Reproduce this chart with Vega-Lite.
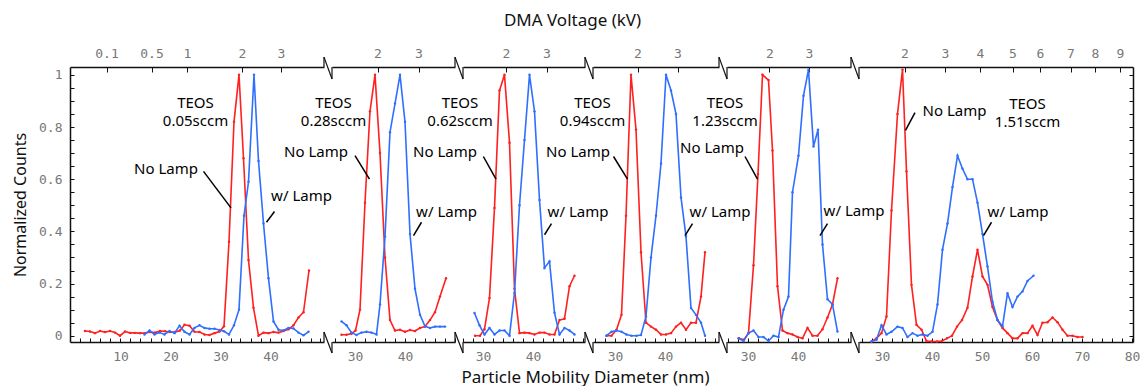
{
"$schema":"https://vega.github.io/schema/vega-lite/v6.json",
"background":"white",
"padding":{"left":12,"top":11,"right":5,"bottom":5},
"bounds":"flush",
"spacing":8,
"config":{"view":{"stroke":null},"font":"Noto Sans",
"axis":{"grid":false,"domainColor":"#111","domainWidth":1.5,"tickColor":"#111","tickWidth":1,"labelFont":"DejaVu Sans Mono","labelFontSize":13,"labelColor":"#777","labelOverlap":false,"labelFlush":false,"titleFont":"Noto Sans","titleFontSize":17,"titleFontWeight":"normal","titleColor":"#111"}},
"datasets":{
"c":[
{"p":1,"s":"No Lamp","d":2.9,"v":0.018},{"p":1,"s":"No Lamp","d":3.9,"v":0.016},{"p":1,"s":"No Lamp","d":4.9,"v":0.01},{"p":1,"s":"No Lamp","d":5.9,"v":0.018},{"p":1,"s":"No Lamp","d":6.9,"v":0.014},{"p":1,"s":"No Lamp","d":7.9,"v":0.018},{"p":1,"s":"No Lamp","d":8.9,"v":0.012},{"p":1,"s":"No Lamp","d":9.9,"v":0.0},{"p":1,"s":"No Lamp","d":10.9,"v":0.016},{"p":1,"s":"No Lamp","d":11.9,"v":0.011},{"p":1,"s":"No Lamp","d":12.9,"v":0.011},{"p":1,"s":"No Lamp","d":13.9,"v":0.01},{"p":1,"s":"No Lamp","d":14.9,"v":0.01},{"p":1,"s":"No Lamp","d":15.9,"v":0.014},{"p":1,"s":"No Lamp","d":16.9,"v":0.012},{"p":1,"s":"No Lamp","d":17.9,"v":0.018},{"p":1,"s":"No Lamp","d":18.9,"v":0.017},{"p":1,"s":"No Lamp","d":19.9,"v":0.014},{"p":1,"s":"No Lamp","d":20.9,"v":0.014},{"p":1,"s":"No Lamp","d":21.9,"v":0.02},{"p":1,"s":"No Lamp","d":22.8,"v":0.042},{"p":1,"s":"No Lamp","d":23.8,"v":0.038},{"p":1,"s":"No Lamp","d":24.8,"v":0.015},{"p":1,"s":"No Lamp","d":25.8,"v":0.014},{"p":1,"s":"No Lamp","d":26.8,"v":0.005},{"p":1,"s":"No Lamp","d":27.8,"v":0.003},{"p":1,"s":"No Lamp","d":28.8,"v":0.01},{"p":1,"s":"No Lamp","d":29.8,"v":0.016},{"p":1,"s":"No Lamp","d":30.7,"v":0.036},{"p":1,"s":"No Lamp","d":31.7,"v":0.36},{"p":1,"s":"No Lamp","d":32.7,"v":0.82},{"p":1,"s":"No Lamp","d":33.7,"v":1.0},{"p":1,"s":"No Lamp","d":34.6,"v":0.68},{"p":1,"s":"No Lamp","d":35.6,"v":0.29},{"p":1,"s":"No Lamp","d":36.6,"v":0.107},{"p":1,"s":"No Lamp","d":37.6,"v":0.0},{"p":1,"s":"No Lamp","d":38.6,"v":0.012},{"p":1,"s":"No Lamp","d":39.6,"v":0.01},{"p":1,"s":"No Lamp","d":40.6,"v":0.014},{"p":1,"s":"No Lamp","d":41.6,"v":0.012},{"p":1,"s":"No Lamp","d":42.6,"v":0.018},{"p":1,"s":"No Lamp","d":43.6,"v":0.025},{"p":1,"s":"No Lamp","d":44.6,"v":0.04},{"p":1,"s":"No Lamp","d":45.6,"v":0.07},{"p":1,"s":"No Lamp","d":46.6,"v":0.09},{"p":1,"s":"No Lamp","d":47.7,"v":0.25},
{"p":1,"s":"w/ Lamp","d":14.8,"v":0.005},{"p":1,"s":"w/ Lamp","d":15.8,"v":0.02},{"p":1,"s":"w/ Lamp","d":16.8,"v":0.005},{"p":1,"s":"w/ Lamp","d":17.8,"v":0.012},{"p":1,"s":"w/ Lamp","d":18.8,"v":0.005},{"p":1,"s":"w/ Lamp","d":19.8,"v":0.018},{"p":1,"s":"w/ Lamp","d":20.8,"v":0.01},{"p":1,"s":"w/ Lamp","d":21.8,"v":0.038},{"p":1,"s":"w/ Lamp","d":22.8,"v":0.015},{"p":1,"s":"w/ Lamp","d":23.8,"v":0.005},{"p":1,"s":"w/ Lamp","d":24.8,"v":0.03},{"p":1,"s":"w/ Lamp","d":25.8,"v":0.04},{"p":1,"s":"w/ Lamp","d":26.8,"v":0.03},{"p":1,"s":"w/ Lamp","d":27.8,"v":0.027},{"p":1,"s":"w/ Lamp","d":28.8,"v":0.027},{"p":1,"s":"w/ Lamp","d":29.8,"v":0.022},{"p":1,"s":"w/ Lamp","d":30.7,"v":0.017},{"p":1,"s":"w/ Lamp","d":31.7,"v":0.005},{"p":1,"s":"w/ Lamp","d":32.7,"v":0.04},{"p":1,"s":"w/ Lamp","d":33.7,"v":0.1},{"p":1,"s":"w/ Lamp","d":34.7,"v":0.46},{"p":1,"s":"w/ Lamp","d":35.6,"v":0.59},{"p":1,"s":"w/ Lamp","d":36.7,"v":1.0},{"p":1,"s":"w/ Lamp","d":37.6,"v":0.67},{"p":1,"s":"w/ Lamp","d":38.6,"v":0.43},{"p":1,"s":"w/ Lamp","d":39.6,"v":0.22},{"p":1,"s":"w/ Lamp","d":40.6,"v":0.055},{"p":1,"s":"w/ Lamp","d":41.6,"v":0.023},{"p":1,"s":"w/ Lamp","d":42.6,"v":0.02},{"p":1,"s":"w/ Lamp","d":43.6,"v":0.03},{"p":1,"s":"w/ Lamp","d":44.6,"v":0.028},{"p":1,"s":"w/ Lamp","d":45.6,"v":0.012},{"p":1,"s":"w/ Lamp","d":46.6,"v":0.002},{"p":1,"s":"w/ Lamp","d":47.6,"v":0.015},
{"p":2,"s":"No Lamp","d":27.3,"v":0.004},{"p":2,"s":"No Lamp","d":28.3,"v":0.004},{"p":2,"s":"No Lamp","d":29.3,"v":0.008},{"p":2,"s":"No Lamp","d":30.1,"v":0.02},{"p":2,"s":"No Lamp","d":31,"v":0.1},{"p":2,"s":"No Lamp","d":32,"v":0.51},{"p":2,"s":"No Lamp","d":33,"v":0.86},{"p":2,"s":"No Lamp","d":34,"v":1.0},{"p":2,"s":"No Lamp","d":35,"v":0.7},{"p":2,"s":"No Lamp","d":36,"v":0.3},{"p":2,"s":"No Lamp","d":37,"v":0.06},{"p":2,"s":"No Lamp","d":38,"v":0.02},{"p":2,"s":"No Lamp","d":39,"v":0.023},{"p":2,"s":"No Lamp","d":40,"v":0.015},{"p":2,"s":"No Lamp","d":41,"v":0.022},{"p":2,"s":"No Lamp","d":42,"v":0.018},{"p":2,"s":"No Lamp","d":43,"v":0.03},{"p":2,"s":"No Lamp","d":44,"v":0.035},{"p":2,"s":"No Lamp","d":45,"v":0.06},{"p":2,"s":"No Lamp","d":46,"v":0.09},{"p":2,"s":"No Lamp","d":47,"v":0.15},{"p":2,"s":"No Lamp","d":48.2,"v":0.22},
{"p":2,"s":"w/ Lamp","d":27.3,"v":0.055},{"p":2,"s":"w/ Lamp","d":28.3,"v":0.04},{"p":2,"s":"w/ Lamp","d":29.3,"v":0.012},{"p":2,"s":"w/ Lamp","d":30.3,"v":0.003},{"p":2,"s":"w/ Lamp","d":31.3,"v":0.012},{"p":2,"s":"w/ Lamp","d":32.3,"v":0.015},{"p":2,"s":"w/ Lamp","d":33.3,"v":0.012},{"p":2,"s":"w/ Lamp","d":34.3,"v":0.005},{"p":2,"s":"w/ Lamp","d":35,"v":0.12},{"p":2,"s":"w/ Lamp","d":36,"v":0.38},{"p":2,"s":"w/ Lamp","d":37,"v":0.78},{"p":2,"s":"w/ Lamp","d":38,"v":0.89},{"p":2,"s":"w/ Lamp","d":39,"v":1.0},{"p":2,"s":"w/ Lamp","d":40,"v":0.82},{"p":2,"s":"w/ Lamp","d":41,"v":0.39},{"p":2,"s":"w/ Lamp","d":42,"v":0.18},{"p":2,"s":"w/ Lamp","d":43,"v":0.08},{"p":2,"s":"w/ Lamp","d":44,"v":0.036},{"p":2,"s":"w/ Lamp","d":45,"v":0.03},{"p":2,"s":"w/ Lamp","d":46,"v":0.035},{"p":2,"s":"w/ Lamp","d":47,"v":0.035},{"p":2,"s":"w/ Lamp","d":48,"v":0.035},
{"p":3,"s":"No Lamp","d":28.4,"v":0.0},{"p":3,"s":"No Lamp","d":29.4,"v":0.0},{"p":3,"s":"No Lamp","d":30.3,"v":0.025},{"p":3,"s":"No Lamp","d":31.3,"v":0.145},{"p":3,"s":"No Lamp","d":32.3,"v":0.49},{"p":3,"s":"No Lamp","d":33.3,"v":0.94},{"p":3,"s":"No Lamp","d":34.3,"v":1.0},{"p":3,"s":"No Lamp","d":35.3,"v":0.74},{"p":3,"s":"No Lamp","d":36.3,"v":0.18},{"p":3,"s":"No Lamp","d":37.3,"v":0.01},{"p":3,"s":"No Lamp","d":38.3,"v":0.012},{"p":3,"s":"No Lamp","d":39.3,"v":0.01},{"p":3,"s":"No Lamp","d":40.3,"v":0.005},{"p":3,"s":"No Lamp","d":41.3,"v":0.012},{"p":3,"s":"No Lamp","d":42.3,"v":0.012},{"p":3,"s":"No Lamp","d":43.3,"v":0.005},{"p":3,"s":"No Lamp","d":44.3,"v":0.005},{"p":3,"s":"No Lamp","d":45.3,"v":0.06},{"p":3,"s":"No Lamp","d":46.3,"v":0.065},{"p":3,"s":"No Lamp","d":47.3,"v":0.19},{"p":3,"s":"No Lamp","d":48.3,"v":0.23},
{"p":3,"s":"w/ Lamp","d":28.3,"v":0.087},{"p":3,"s":"w/ Lamp","d":29.3,"v":0.04},{"p":3,"s":"w/ Lamp","d":30.3,"v":0.005},{"p":3,"s":"w/ Lamp","d":31.3,"v":0.03},{"p":3,"s":"w/ Lamp","d":32.3,"v":0.005},{"p":3,"s":"w/ Lamp","d":33.3,"v":0.02},{"p":3,"s":"w/ Lamp","d":34.3,"v":0.02},{"p":3,"s":"w/ Lamp","d":35.3,"v":0.0},{"p":3,"s":"w/ Lamp","d":36.3,"v":0.165},{"p":3,"s":"w/ Lamp","d":37.3,"v":0.5},{"p":3,"s":"w/ Lamp","d":38.3,"v":0.75},{"p":3,"s":"w/ Lamp","d":39.3,"v":1.0},{"p":3,"s":"w/ Lamp","d":40.3,"v":0.86},{"p":3,"s":"w/ Lamp","d":41.3,"v":0.52},{"p":3,"s":"w/ Lamp","d":42.3,"v":0.26},{"p":3,"s":"w/ Lamp","d":43.3,"v":0.285},{"p":3,"s":"w/ Lamp","d":44.3,"v":0.088},{"p":3,"s":"w/ Lamp","d":45.3,"v":0.005},{"p":3,"s":"w/ Lamp","d":46.3,"v":0.03},{"p":3,"s":"w/ Lamp","d":47.3,"v":0.02},{"p":3,"s":"w/ Lamp","d":48.3,"v":0.005},
{"p":4,"s":"No Lamp","d":28.3,"v":0.0},{"p":4,"s":"No Lamp","d":29.3,"v":0.0},{"p":4,"s":"No Lamp","d":30.3,"v":0.023},{"p":4,"s":"No Lamp","d":31.3,"v":0.08},{"p":4,"s":"No Lamp","d":32.2,"v":0.46},{"p":4,"s":"No Lamp","d":33.2,"v":1.0},{"p":4,"s":"No Lamp","d":34.2,"v":0.79},{"p":4,"s":"No Lamp","d":35.2,"v":0.32},{"p":4,"s":"No Lamp","d":36.2,"v":0.05},{"p":4,"s":"No Lamp","d":37.2,"v":0.035},{"p":4,"s":"No Lamp","d":38.2,"v":0.023},{"p":4,"s":"No Lamp","d":39.2,"v":0.005},{"p":4,"s":"No Lamp","d":40.2,"v":0.005},{"p":4,"s":"No Lamp","d":41.2,"v":0.01},{"p":4,"s":"No Lamp","d":42.2,"v":0.035},{"p":4,"s":"No Lamp","d":43.2,"v":0.05},{"p":4,"s":"No Lamp","d":44.2,"v":0.023},{"p":4,"s":"No Lamp","d":45.2,"v":0.05},{"p":4,"s":"No Lamp","d":46.2,"v":0.05},{"p":4,"s":"No Lamp","d":47.2,"v":0.15},{"p":4,"s":"No Lamp","d":48,"v":0.32},
{"p":4,"s":"w/ Lamp","d":28.3,"v":0.0},{"p":4,"s":"w/ Lamp","d":29.3,"v":0.015},{"p":4,"s":"w/ Lamp","d":30.3,"v":0.02},{"p":4,"s":"w/ Lamp","d":31.3,"v":0.015},{"p":4,"s":"w/ Lamp","d":32.3,"v":0.005},{"p":4,"s":"w/ Lamp","d":33.3,"v":0.0},{"p":4,"s":"w/ Lamp","d":34.3,"v":0.0},{"p":4,"s":"w/ Lamp","d":35.2,"v":0.003},{"p":4,"s":"w/ Lamp","d":36.2,"v":0.074},{"p":4,"s":"w/ Lamp","d":37.2,"v":0.3},{"p":4,"s":"w/ Lamp","d":38.2,"v":0.46},{"p":4,"s":"w/ Lamp","d":39.2,"v":0.66},{"p":4,"s":"w/ Lamp","d":40.2,"v":1.0},{"p":4,"s":"w/ Lamp","d":41.2,"v":0.94},{"p":4,"s":"w/ Lamp","d":42.2,"v":0.85},{"p":4,"s":"w/ Lamp","d":43.2,"v":0.53},{"p":4,"s":"w/ Lamp","d":44.2,"v":0.38},{"p":4,"s":"w/ Lamp","d":45.2,"v":0.106},{"p":4,"s":"w/ Lamp","d":46.2,"v":0.08},{"p":4,"s":"w/ Lamp","d":47.2,"v":0.05},{"p":4,"s":"w/ Lamp","d":48,"v":0.0},
{"p":5,"s":"No Lamp","d":28.2,"v":-0.01},{"p":5,"s":"No Lamp","d":29.2,"v":-0.015},{"p":5,"s":"No Lamp","d":30.1,"v":0.01},{"p":5,"s":"No Lamp","d":31.1,"v":0.27},{"p":5,"s":"No Lamp","d":32,"v":0.62},{"p":5,"s":"No Lamp","d":32.9,"v":1.0},{"p":5,"s":"No Lamp","d":34.1,"v":0.98},{"p":5,"s":"No Lamp","d":34.9,"v":0.71},{"p":5,"s":"No Lamp","d":35.9,"v":0.19},{"p":5,"s":"No Lamp","d":36.9,"v":0.02},{"p":5,"s":"No Lamp","d":37.9,"v":0.01},{"p":5,"s":"No Lamp","d":38.9,"v":0.005},{"p":5,"s":"No Lamp","d":39.9,"v":-0.005},{"p":5,"s":"No Lamp","d":40.9,"v":-0.01},{"p":5,"s":"No Lamp","d":41.9,"v":0.03},{"p":5,"s":"No Lamp","d":42.9,"v":0.0},{"p":5,"s":"No Lamp","d":43.9,"v":0.0},{"p":5,"s":"No Lamp","d":44.9,"v":0.025},{"p":5,"s":"No Lamp","d":45.9,"v":0.07},{"p":5,"s":"No Lamp","d":46.9,"v":0.12},{"p":5,"s":"No Lamp","d":47.9,"v":0.22},
{"p":5,"s":"w/ Lamp","d":28.1,"v":-0.01},{"p":5,"s":"w/ Lamp","d":29.1,"v":-0.02},{"p":5,"s":"w/ Lamp","d":30.1,"v":0.01},{"p":5,"s":"w/ Lamp","d":31.1,"v":0.02},{"p":5,"s":"w/ Lamp","d":32.1,"v":-0.005},{"p":5,"s":"w/ Lamp","d":33.1,"v":-0.005},{"p":5,"s":"w/ Lamp","d":34.1,"v":-0.02},{"p":5,"s":"w/ Lamp","d":35.1,"v":0.0},{"p":5,"s":"w/ Lamp","d":36.1,"v":-0.005},{"p":5,"s":"w/ Lamp","d":37.1,"v":0.1},{"p":5,"s":"w/ Lamp","d":38.1,"v":0.15},{"p":5,"s":"w/ Lamp","d":38.9,"v":0.55},{"p":5,"s":"w/ Lamp","d":40.1,"v":0.69},{"p":5,"s":"w/ Lamp","d":41.1,"v":0.92},{"p":5,"s":"w/ Lamp","d":42.1,"v":1.02},{"p":5,"s":"w/ Lamp","d":43.1,"v":0.725},{"p":5,"s":"w/ Lamp","d":44,"v":0.79},{"p":5,"s":"w/ Lamp","d":44.9,"v":0.35},{"p":5,"s":"w/ Lamp","d":45.9,"v":0.14},{"p":5,"s":"w/ Lamp","d":46.9,"v":0.12},{"p":5,"s":"w/ Lamp","d":47.9,"v":0.016},
{"p":6,"s":"No Lamp","d":27.9,"v":-0.022},{"p":6,"s":"No Lamp","d":28.9,"v":-0.01},{"p":6,"s":"No Lamp","d":29.9,"v":0.01},{"p":6,"s":"No Lamp","d":30.9,"v":0.074},{"p":6,"s":"No Lamp","d":31.9,"v":0.48},{"p":6,"s":"No Lamp","d":33.1,"v":0.85},{"p":6,"s":"No Lamp","d":34.1,"v":1.02},{"p":6,"s":"No Lamp","d":34.9,"v":0.63},{"p":6,"s":"No Lamp","d":35.9,"v":0.195},{"p":6,"s":"No Lamp","d":36.9,"v":0.042},{"p":6,"s":"No Lamp","d":37.9,"v":0.023},{"p":6,"s":"No Lamp","d":38.9,"v":-0.02},{"p":6,"s":"No Lamp","d":39.9,"v":-0.022},{"p":6,"s":"No Lamp","d":41,"v":-0.022},{"p":6,"s":"No Lamp","d":42,"v":-0.02},{"p":6,"s":"No Lamp","d":43,"v":-0.01},{"p":6,"s":"No Lamp","d":44,"v":0.0},{"p":6,"s":"No Lamp","d":45,"v":0.035},{"p":6,"s":"No Lamp","d":46,"v":0.06},{"p":6,"s":"No Lamp","d":47.1,"v":0.107},{"p":6,"s":"No Lamp","d":48.1,"v":0.227},{"p":6,"s":"No Lamp","d":49.1,"v":0.33},{"p":6,"s":"No Lamp","d":50.1,"v":0.227},{"p":6,"s":"No Lamp","d":51.1,"v":0.195},{"p":6,"s":"No Lamp","d":52.1,"v":0.11},{"p":6,"s":"No Lamp","d":53.1,"v":0.06},{"p":6,"s":"No Lamp","d":54.1,"v":0.03},{"p":6,"s":"No Lamp","d":55.1,"v":0.01},{"p":6,"s":"No Lamp","d":56.1,"v":-0.01},{"p":6,"s":"No Lamp","d":57.1,"v":-0.01},{"p":6,"s":"No Lamp","d":58.1,"v":0.01},{"p":6,"s":"No Lamp","d":59.1,"v":0.01},{"p":6,"s":"No Lamp","d":60.1,"v":0.038},{"p":6,"s":"No Lamp","d":61.1,"v":0.003},{"p":6,"s":"No Lamp","d":62.1,"v":0.05},{"p":6,"s":"No Lamp","d":63.1,"v":0.052},{"p":6,"s":"No Lamp","d":64.1,"v":0.07},{"p":6,"s":"No Lamp","d":65.1,"v":0.052},{"p":6,"s":"No Lamp","d":66.1,"v":0.023},{"p":6,"s":"No Lamp","d":67.1,"v":0.0},{"p":6,"s":"No Lamp","d":68.1,"v":0.0},{"p":6,"s":"No Lamp","d":69.1,"v":-0.005},{"p":6,"s":"No Lamp","d":70.1,"v":-0.005},
{"p":6,"s":"w/ Lamp","d":27.9,"v":-0.022},{"p":6,"s":"w/ Lamp","d":28.9,"v":-0.015},{"p":6,"s":"w/ Lamp","d":29.9,"v":0.04},{"p":6,"s":"w/ Lamp","d":30.9,"v":0.005},{"p":6,"s":"w/ Lamp","d":31.9,"v":0.015},{"p":6,"s":"w/ Lamp","d":33.1,"v":0.035},{"p":6,"s":"w/ Lamp","d":34.1,"v":0.03},{"p":6,"s":"w/ Lamp","d":35.1,"v":-0.005},{"p":6,"s":"w/ Lamp","d":36.1,"v":0.01},{"p":6,"s":"w/ Lamp","d":37.1,"v":0.0},{"p":6,"s":"w/ Lamp","d":38.1,"v":0.005},{"p":6,"s":"w/ Lamp","d":39.1,"v":0.0},{"p":6,"s":"w/ Lamp","d":40.1,"v":0.015},{"p":6,"s":"w/ Lamp","d":41.1,"v":0.12},{"p":6,"s":"w/ Lamp","d":42.1,"v":0.33},{"p":6,"s":"w/ Lamp","d":43.1,"v":0.43},{"p":6,"s":"w/ Lamp","d":44.1,"v":0.57},{"p":6,"s":"w/ Lamp","d":45.1,"v":0.69},{"p":6,"s":"w/ Lamp","d":46.1,"v":0.64},{"p":6,"s":"w/ Lamp","d":47.1,"v":0.6},{"p":6,"s":"w/ Lamp","d":48.1,"v":0.6},{"p":6,"s":"w/ Lamp","d":49.1,"v":0.51},{"p":6,"s":"w/ Lamp","d":50.1,"v":0.39},{"p":6,"s":"w/ Lamp","d":51.1,"v":0.265},{"p":6,"s":"w/ Lamp","d":52.1,"v":0.13},{"p":6,"s":"w/ Lamp","d":53.1,"v":0.06},{"p":6,"s":"w/ Lamp","d":54.1,"v":0.036},{"p":6,"s":"w/ Lamp","d":55.1,"v":0.163},{"p":6,"s":"w/ Lamp","d":56.1,"v":0.11},{"p":6,"s":"w/ Lamp","d":57.1,"v":0.15},{"p":6,"s":"w/ Lamp","d":58.1,"v":0.17},{"p":6,"s":"w/ Lamp","d":59.1,"v":0.21},{"p":6,"s":"w/ Lamp","d":60.3,"v":0.23}
],
"lab":[
{"p":1,"d":25.0,"v":0.893,"t":"TEOS\n0.05sccm"},{"p":2,"d":25.7,"v":0.893,"t":"TEOS\n0.28sccm"},{"p":3,"d":25.4,"v":0.893,"t":"TEOS\n0.62sccm"},{"p":4,"d":25.5,"v":0.893,"t":"TEOS\n0.94sccm"},{"p":5,"d":25.4,"v":0.893,"t":"TEOS\n1.23sccm"},{"p":6,"d":59.1,"v":0.89,"t":"TEOS\n1.51sccm"},
{"p":1,"d":19.1,"v":0.64,"t":"No Lamp"},{"p":2,"d":22.2,"v":0.705,"t":"No Lamp"},{"p":3,"d":22.4,"v":0.706,"t":"No Lamp"},{"p":4,"d":22.6,"v":0.706,"t":"No Lamp"},{"p":5,"d":22.8,"v":0.72,"t":"No Lamp"},{"p":6,"d":44.5,"v":0.863,"t":"No Lamp"},
{"p":1,"d":46.2,"v":0.534,"t":"w/ Lamp"},{"p":2,"d":48.3,"v":0.476,"t":"w/ Lamp"},{"p":3,"d":49.0,"v":0.476,"t":"w/ Lamp"},{"p":4,"d":51.0,"v":0.476,"t":"w/ Lamp"},{"p":5,"d":51.2,"v":0.48,"t":"w/ Lamp"},{"p":6,"d":57.2,"v":0.474,"t":"w/ Lamp"}
],
"ptr":[
{"p":1,"d":26.6,"v":0.63,"d2":32.1,"v2":0.49},{"p":1,"d":40.8,"v":0.476,"d2":39.2,"v2":0.435},
{"p":2,"d":30.0,"v":0.69,"d2":32.9,"v2":0.6},{"p":2,"d":43.3,"v":0.435,"d2":41.7,"v2":0.384},
{"p":3,"d":30.07,"v":0.687,"d2":32.6,"v2":0.6},{"p":3,"d":43.7,"v":0.43,"d2":42.3,"v2":0.387},
{"p":4,"d":29.7,"v":0.687,"d2":32.5,"v2":0.6},{"p":4,"d":45.5,"v":0.43,"d2":44.0,"v2":0.384},
{"p":5,"d":29.4,"v":0.687,"d2":31.9,"v2":0.6},{"p":5,"d":45.9,"v":0.43,"d2":44.4,"v2":0.384},
{"p":6,"d":36.6,"v":0.855,"d2":34.7,"v2":0.787},{"p":6,"d":51.9,"v":0.435,"d2":50.3,"v2":0.384}
],
"brk":[
{"p":1,"d":50.7,"v":1.03,"d2":50.7,"v2":1.068},{"p":1,"d":50.7,"v":1.068,"d2":52.3,"v2":0.984},{"p":1,"d":52.3,"v":0.984,"d2":52.3,"v2":1.03},
{"p":1,"d":50.7,"v":-0.024,"d2":50.7,"v2":0.014},{"p":1,"d":50.7,"v":0.014,"d2":52.3,"v2":-0.066},{"p":1,"d":52.3,"v":-0.066,"d2":52.3,"v2":-0.024},
{"p":2,"d":50.0,"v":1.03,"d2":50.0,"v2":1.068},{"p":2,"d":50.0,"v":1.068,"d2":51.6,"v2":0.984},{"p":2,"d":51.6,"v":0.984,"d2":51.6,"v2":1.03},
{"p":2,"d":50.0,"v":-0.024,"d2":50.0,"v2":0.014},{"p":2,"d":50.0,"v":0.014,"d2":51.6,"v2":-0.066},{"p":2,"d":51.6,"v":-0.066,"d2":51.6,"v2":-0.024},
{"p":3,"d":50.4,"v":1.03,"d2":50.4,"v2":1.068},{"p":3,"d":50.4,"v":1.068,"d2":52.0,"v2":0.984},{"p":3,"d":52.0,"v":0.984,"d2":52.0,"v2":1.03},
{"p":3,"d":50.4,"v":-0.024,"d2":50.4,"v2":0.014},{"p":3,"d":50.4,"v":0.014,"d2":52.0,"v2":-0.066},{"p":3,"d":52.0,"v":-0.066,"d2":52.0,"v2":-0.024},
{"p":4,"d":50.8,"v":1.03,"d2":50.8,"v2":1.068},{"p":4,"d":50.8,"v":1.068,"d2":52.4,"v2":0.984},{"p":4,"d":52.4,"v":0.984,"d2":52.4,"v2":1.03},
{"p":4,"d":50.8,"v":-0.024,"d2":50.8,"v2":0.014},{"p":4,"d":50.8,"v":0.014,"d2":52.4,"v2":-0.066},{"p":4,"d":52.4,"v":-0.066,"d2":52.4,"v2":-0.024},
{"p":5,"d":50.6,"v":1.03,"d2":50.6,"v2":1.068},{"p":5,"d":50.6,"v":1.068,"d2":52.2,"v2":0.984},{"p":5,"d":52.2,"v":0.984,"d2":52.2,"v2":1.03},
{"p":5,"d":50.6,"v":-0.024,"d2":50.6,"v2":0.014},{"p":5,"d":50.6,"v":0.014,"d2":52.2,"v2":-0.066},{"p":5,"d":52.2,"v":-0.066,"d2":52.2,"v2":-0.024}
]
},
"hconcat":[
{"width":254,"height":275,"resolve":{"axis":{"x":"independent","y":"independent"}},"layer":[
{"data":{"name":"c"},"transform":[{"filter":"datum.p==1 && datum.s=='No Lamp'"}],"mark":{"type":"line","color":"#ff2020","strokeWidth":1.6,"point":{"filled":true,"size":6,"color":"#ff2020"}},
"encoding":{"x":{"field":"d","type":"quantitative","scale":{"domain":[-0.1,50.7],"nice":false,"zero":false},"axis":{"orient":"bottom","title":null,"values":[2,4,6,8,10,12,14,16,18,20,22,24,26,28,30,32,34,36,38,40,42,44,46,48,50],"labelExpr":"datum.value%10==0 && datum.value<50?datum.label:''","tickSize":-4,"labelPadding":12}},
"y":{"field":"v","type":"quantitative","scale":{"domain":[-0.024,1.03],"nice":false,"zero":false},"axis":{"orient":"left","title":"Normalized Counts","titleFontSize":16,"titlePadding":10,"values":[0,0.05,0.1,0.15,0.2,0.25,0.3,0.35,0.4,0.45,0.5,0.55,0.6,0.65,0.7,0.75,0.8,0.85,0.9,0.95,1],"labelExpr":"round(datum.value*100)%20==0?format(datum.value,'~g'):''","tickSize":-4,"labelPadding":12}}}},
{"data":{"name":"c"},"transform":[{"filter":"datum.p==1 && datum.s=='w/ Lamp'"}],"mark":{"type":"line","color":"#2f6fff","strokeWidth":1.6,"point":{"filled":true,"size":6,"color":"#2f6fff"}},
"encoding":{"x":{"field":"d","type":"quantitative","axis":{"orient":"top","title":null,"values":[7.2,16.2,23.3,34.3,42.1],"labelExpr":"datum.value<10?'0.1':datum.value<20?'0.5':datum.value<28?'1':datum.value<38?'2':'3'","tickSize":-5,"labelPadding":12}},"y":{"field":"v","type":"quantitative","axis":null}}},
{"data":{"name":"ptr"},"transform":[{"filter":"datum.p==1"}],"mark":{"type":"rule","color":"#000","strokeWidth":1.5},"encoding":{"x":{"field":"d","type":"quantitative","axis":null},"y":{"field":"v","type":"quantitative","axis":null},"x2":{"field":"d2"},"y2":{"field":"v2"}}},
{"data":{"name":"brk"},"transform":[{"filter":"datum.p==1"}],"mark":{"type":"rule","color":"#111","strokeWidth":1.2},"encoding":{"x":{"field":"d","type":"quantitative","axis":null},"y":{"field":"v","type":"quantitative","axis":null},"x2":{"field":"d2"},"y2":{"field":"v2"}}},
{"data":{"name":"lab"},"transform":[{"filter":"datum.p==1"}],"mark":{"type":"text","font":"Noto Sans","fontSize":15,"lineBreak":"\n","lineHeight":18,"color":"#000"},"encoding":{"x":{"field":"d","type":"quantitative","axis":null},"y":{"field":"v","type":"quantitative","axis":null},"text":{"field":"t"}}}
]},
{"width":123,"height":275,"resolve":{"axis":{"x":"independent"}},"layer":[
{"data":{"name":"c"},"transform":[{"filter":"datum.p==2 && datum.s=='No Lamp'"}],"mark":{"type":"line","color":"#ff2020","strokeWidth":1.6,"point":{"filled":true,"size":6,"color":"#ff2020"}},
"encoding":{"x":{"field":"d","type":"quantitative","scale":{"domain":[25.4,50.0],"nice":false,"zero":false},"axis":{"orient":"bottom","title":null,"values":[26,28,30,32,34,36,38,40,42,44,46,48,50],"labelExpr":"datum.value%10==0 && datum.value<50?datum.label:''","tickSize":-4,"labelPadding":12}},
"y":{"field":"v","type":"quantitative","scale":{"domain":[-0.024,1.03],"nice":false,"zero":false},"axis":null}}},
{"data":{"name":"c"},"transform":[{"filter":"datum.p==2 && datum.s=='w/ Lamp'"}],"mark":{"type":"line","color":"#2f6fff","strokeWidth":1.6,"point":{"filled":true,"size":6,"color":"#2f6fff"}},
"encoding":{"x":{"field":"d","type":"quantitative","axis":{"orient":"top","title":null,"values":[34.5,42.7],"labelExpr":"datum.value<38?'2':'3'","tickSize":-5,"labelPadding":12}},"y":{"field":"v","type":"quantitative","axis":null}}},
{"data":{"name":"ptr"},"transform":[{"filter":"datum.p==2"}],"mark":{"type":"rule","color":"#000","strokeWidth":1.5},"encoding":{"x":{"field":"d","type":"quantitative","axis":null},"y":{"field":"v","type":"quantitative","axis":null},"x2":{"field":"d2"},"y2":{"field":"v2"}}},
{"data":{"name":"brk"},"transform":[{"filter":"datum.p==2"}],"mark":{"type":"rule","color":"#111","strokeWidth":1.2},"encoding":{"x":{"field":"d","type":"quantitative","axis":null},"y":{"field":"v","type":"quantitative","axis":null},"x2":{"field":"d2"},"y2":{"field":"v2"}}},
{"data":{"name":"lab"},"transform":[{"filter":"datum.p==2"}],"mark":{"type":"text","font":"Noto Sans","fontSize":15,"lineBreak":"\n","lineHeight":18,"color":"#000"},"encoding":{"x":{"field":"d","type":"quantitative","axis":null},"y":{"field":"v","type":"quantitative","axis":null},"text":{"field":"t"}}}
]},
{"width":122,"height":275,"resolve":{"axis":{"x":"independent"}},"layer":[
{"data":{"name":"c"},"transform":[{"filter":"datum.p==3 && datum.s=='No Lamp'"}],"mark":{"type":"line","color":"#ff2020","strokeWidth":1.6,"point":{"filled":true,"size":6,"color":"#ff2020"}},
"encoding":{"x":{"field":"d","type":"quantitative","scale":{"domain":[26.0,50.4],"nice":false,"zero":false},"axis":{"orient":"bottom","title":null,"values":[26,28,30,32,34,36,38,40,42,44,46,48,50],"labelExpr":"datum.value%10==0 && datum.value<50?datum.label:''","tickSize":-4,"labelPadding":12}},
"y":{"field":"v","type":"quantitative","scale":{"domain":[-0.024,1.03],"nice":false,"zero":false},"axis":null}}},
{"data":{"name":"c"},"transform":[{"filter":"datum.p==3 && datum.s=='w/ Lamp'"}],"mark":{"type":"line","color":"#2f6fff","strokeWidth":1.6,"point":{"filled":true,"size":6,"color":"#2f6fff"}},
"encoding":{"x":{"field":"d","type":"quantitative","axis":{"orient":"top","title":null,"values":[34.6,42.7],"labelExpr":"datum.value<38?'2':'3'","tickSize":-5,"labelPadding":12}},"y":{"field":"v","type":"quantitative","axis":null}}},
{"data":{"name":"ptr"},"transform":[{"filter":"datum.p==3"}],"mark":{"type":"rule","color":"#000","strokeWidth":1.5},"encoding":{"x":{"field":"d","type":"quantitative","axis":null},"y":{"field":"v","type":"quantitative","axis":null},"x2":{"field":"d2"},"y2":{"field":"v2"}}},
{"data":{"name":"brk"},"transform":[{"filter":"datum.p==3"}],"mark":{"type":"rule","color":"#111","strokeWidth":1.2},"encoding":{"x":{"field":"d","type":"quantitative","axis":null},"y":{"field":"v","type":"quantitative","axis":null},"x2":{"field":"d2"},"y2":{"field":"v2"}}},
{"data":{"name":"lab"},"transform":[{"filter":"datum.p==3"}],"mark":{"type":"text","font":"Noto Sans","fontSize":15,"lineBreak":"\n","lineHeight":18,"color":"#000"},"encoding":{"x":{"field":"d","type":"quantitative","axis":null},"y":{"field":"v","type":"quantitative","axis":null},"text":{"field":"t"}}}
]},
{"width":126,"height":275,"resolve":{"axis":{"x":"independent"}},"layer":[
{"data":{"name":"c"},"transform":[{"filter":"datum.p==4 && datum.s=='No Lamp'"}],"mark":{"type":"line","color":"#ff2020","strokeWidth":1.6,"point":{"filled":true,"size":6,"color":"#ff2020"}},
"encoding":{"x":{"field":"d","type":"quantitative","scale":{"domain":[25.6,50.8],"nice":false,"zero":false},"axis":{"orient":"bottom","title":"Particle Mobility  Diameter (nm)","titleX":-8,"titlePadding":6,"values":[26,28,30,32,34,36,38,40,42,44,46,48,50],"labelExpr":"datum.value%10==0 && datum.value<50?datum.label:''","tickSize":-4,"labelPadding":12}},
"y":{"field":"v","type":"quantitative","scale":{"domain":[-0.024,1.03],"nice":false,"zero":false},"axis":null}}},
{"data":{"name":"c"},"transform":[{"filter":"datum.p==4 && datum.s=='w/ Lamp'"}],"mark":{"type":"line","color":"#2f6fff","strokeWidth":1.6,"point":{"filled":true,"size":6,"color":"#2f6fff"}},
"encoding":{"x":{"field":"d","type":"quantitative","axis":{"orient":"top","title":"DMA Voltage  (kV)","titleX":-21,"titlePadding":18,"values":[34.5,42.5],"labelExpr":"datum.value<38?'2':'3'","tickSize":-5,"labelPadding":12}},"y":{"field":"v","type":"quantitative","axis":null}}},
{"data":{"name":"ptr"},"transform":[{"filter":"datum.p==4"}],"mark":{"type":"rule","color":"#000","strokeWidth":1.5},"encoding":{"x":{"field":"d","type":"quantitative","axis":null},"y":{"field":"v","type":"quantitative","axis":null},"x2":{"field":"d2"},"y2":{"field":"v2"}}},
{"data":{"name":"brk"},"transform":[{"filter":"datum.p==4"}],"mark":{"type":"rule","color":"#111","strokeWidth":1.2},"encoding":{"x":{"field":"d","type":"quantitative","axis":null},"y":{"field":"v","type":"quantitative","axis":null},"x2":{"field":"d2"},"y2":{"field":"v2"}}},
{"data":{"name":"lab"},"transform":[{"filter":"datum.p==4"}],"mark":{"type":"text","font":"Noto Sans","fontSize":15,"lineBreak":"\n","lineHeight":18,"color":"#000"},"encoding":{"x":{"field":"d","type":"quantitative","axis":null},"y":{"field":"v","type":"quantitative","axis":null},"text":{"field":"t"}}}
]},
{"width":124,"height":275,"resolve":{"axis":{"x":"independent"}},"layer":[
{"data":{"name":"c"},"transform":[{"filter":"datum.p==5 && datum.s=='No Lamp'"}],"mark":{"type":"line","color":"#ff2020","strokeWidth":1.6,"point":{"filled":true,"size":6,"color":"#ff2020"}},
"encoding":{"x":{"field":"d","type":"quantitative","scale":{"domain":[25.8,50.6],"nice":false,"zero":false},"axis":{"orient":"bottom","title":null,"values":[26,28,30,32,34,36,38,40,42,44,46,48,50],"labelExpr":"datum.value%10==0 && datum.value<50?datum.label:''","tickSize":-4,"labelPadding":12}},
"y":{"field":"v","type":"quantitative","scale":{"domain":[-0.024,1.03],"nice":false,"zero":false},"axis":null}}},
{"data":{"name":"c"},"transform":[{"filter":"datum.p==5 && datum.s=='w/ Lamp'"}],"mark":{"type":"line","color":"#2f6fff","strokeWidth":1.6,"point":{"filled":true,"size":6,"color":"#2f6fff"}},
"encoding":{"x":{"field":"d","type":"quantitative","axis":{"orient":"top","title":null,"values":[34.3,42.2],"labelExpr":"datum.value<38?'2':'3'","tickSize":-5,"labelPadding":12}},"y":{"field":"v","type":"quantitative","axis":null}}},
{"data":{"name":"ptr"},"transform":[{"filter":"datum.p==5"}],"mark":{"type":"rule","color":"#000","strokeWidth":1.5},"encoding":{"x":{"field":"d","type":"quantitative","axis":null},"y":{"field":"v","type":"quantitative","axis":null},"x2":{"field":"d2"},"y2":{"field":"v2"}}},
{"data":{"name":"brk"},"transform":[{"filter":"datum.p==5"}],"mark":{"type":"rule","color":"#111","strokeWidth":1.2},"encoding":{"x":{"field":"d","type":"quantitative","axis":null},"y":{"field":"v","type":"quantitative","axis":null},"x2":{"field":"d2"},"y2":{"field":"v2"}}},
{"data":{"name":"lab"},"transform":[{"filter":"datum.p==5"}],"mark":{"type":"text","font":"Noto Sans","fontSize":15,"lineBreak":"\n","lineHeight":18,"color":"#000"},"encoding":{"x":{"field":"d","type":"quantitative","axis":null},"y":{"field":"v","type":"quantitative","axis":null},"text":{"field":"t"}}}
]},
{"width":274,"height":275,"resolve":{"axis":{"x":"independent","y":"independent"}},"layer":[
{"data":{"name":"c"},"transform":[{"filter":"datum.p==6 && datum.s=='No Lamp'"}],"mark":{"type":"line","color":"#ff2020","strokeWidth":1.6,"point":{"filled":true,"size":6,"color":"#ff2020"}},
"encoding":{"x":{"field":"d","type":"quantitative","scale":{"domain":[25.4,80.2],"nice":false,"zero":false},"axis":{"orient":"bottom","title":null,"values":[26,28,30,32,34,36,38,40,42,44,46,48,50,52,54,56,58,60,62,64,66,68,70,72,74,76,78,80],"labelExpr":"datum.value%10==0?datum.label:''","tickSize":-4,"labelPadding":12}},
"y":{"field":"v","type":"quantitative","scale":{"domain":[-0.024,1.03],"nice":false,"zero":false},"axis":{"orient":"right","title":null,"labels":false,"values":[0,0.05,0.1,0.15,0.2,0.25,0.3,0.35,0.4,0.45,0.5,0.55,0.6,0.65,0.7,0.75,0.8,0.85,0.9,0.95,1],"tickSize":-4}}}},
{"data":{"name":"c"},"transform":[{"filter":"datum.p==6 && datum.s=='w/ Lamp'"}],"mark":{"type":"line","color":"#2f6fff","strokeWidth":1.6,"point":{"filled":true,"size":6,"color":"#2f6fff"}},
"encoding":{"x":{"field":"d","type":"quantitative","axis":{"orient":"top","title":null,"values":[34.5,42.6,49.6,56.1,61.6,67.7,72.6,77.6],"labelExpr":"datum.value<38?'2':datum.value<46?'3':datum.value<53?'4':datum.value<59?'5':datum.value<65?'6':datum.value<70?'7':datum.value<75?'8':'9'","tickSize":-5,"labelPadding":12}},"y":{"field":"v","type":"quantitative","axis":null}}},
{"data":{"name":"ptr"},"transform":[{"filter":"datum.p==6"}],"mark":{"type":"rule","color":"#000","strokeWidth":1.5},"encoding":{"x":{"field":"d","type":"quantitative","axis":null},"y":{"field":"v","type":"quantitative","axis":null},"x2":{"field":"d2"},"y2":{"field":"v2"}}},
{"data":{"name":"lab"},"transform":[{"filter":"datum.p==6"}],"mark":{"type":"text","font":"Noto Sans","fontSize":15,"lineBreak":"\n","lineHeight":18,"color":"#000"},"encoding":{"x":{"field":"d","type":"quantitative","axis":null},"y":{"field":"v","type":"quantitative","axis":null},"text":{"field":"t"}}}
]}
]
}
